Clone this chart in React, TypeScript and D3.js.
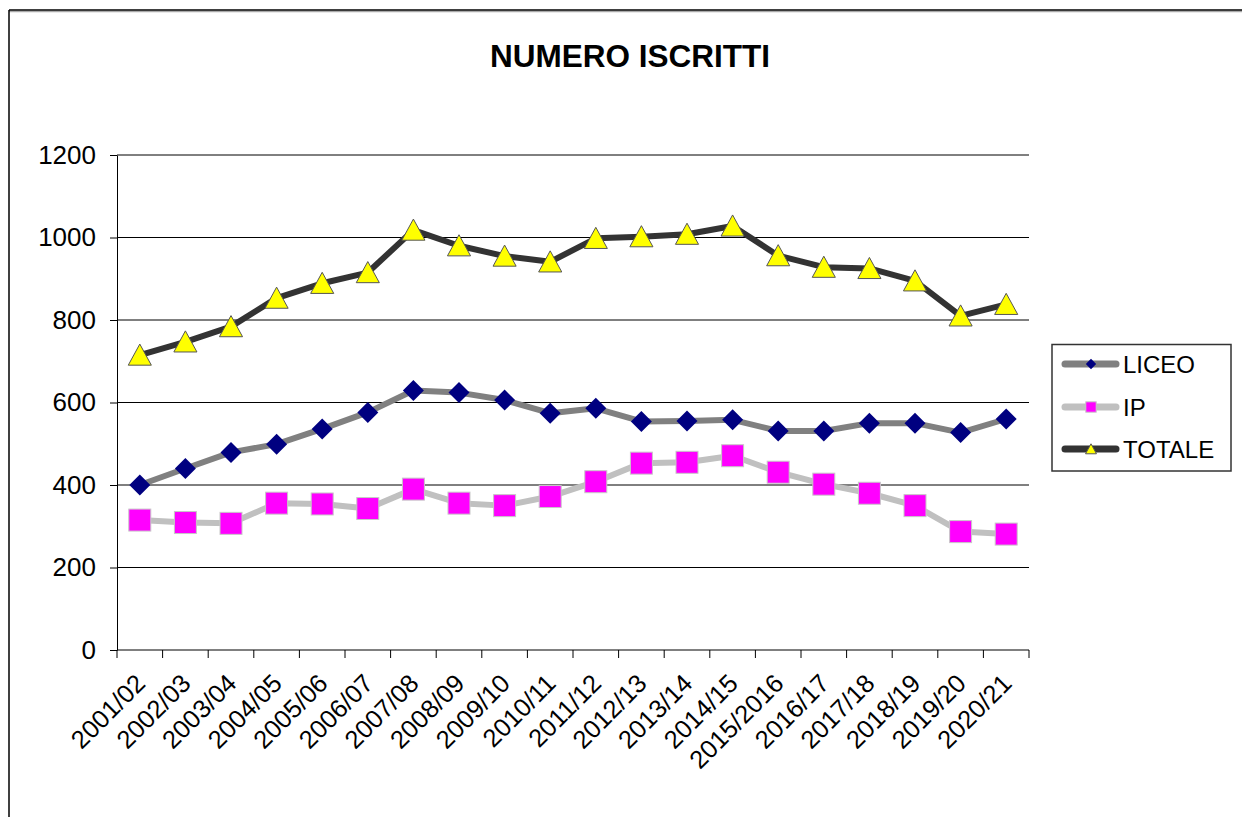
import React, { useEffect, useRef } from "react";
import * as d3 from "d3";

const categories = [
  "2001/02", "2002/03", "2003/04", "2004/05", "2005/06", "2006/07", "2007/08",
  "2008/09", "2009/10", "2010/11", "2011/12", "2012/13", "2013/14", "2014/15",
  "2015/2016", "2016/17", "2017/18", "2018/19", "2019/20", "2020/21",
];
const liceo = [400, 440, 479, 499, 536, 576, 629, 624, 606, 574, 586, 554, 555, 558, 531, 531, 550, 550, 527, 560];
const ip = [315, 309, 307, 356, 354, 343, 390, 356, 350, 372, 408, 453, 455, 471, 431, 402, 380, 350, 287, 281];
const totale = [715, 747, 784, 853, 889, 915, 1018, 980, 955, 941, 998, 1002, 1008, 1028, 956, 928, 925, 895, 810, 838];
const yTicks = [0, 200, 400, 600, 800, 1000, 1200];

const FONT = "'Liberation Sans', Arial, sans-serif";

function marker(g: any, kind: string, s: number) {
  if (kind === "diamond") {
    g.append("path")
      .attr("d", `M0,${-s}L${s},0L0,${s}L${-s},0Z`)
      .attr("fill", "#000080");
  } else if (kind === "square") {
    g.append("rect")
      .attr("x", -s).attr("y", -s).attr("width", 2 * s).attr("height", 2 * s)
      .attr("fill", "#FF00FF").attr("stroke", "#C8C8C8").attr("stroke-width", 1);
  } else {
    g.append("path")
      .attr("d", `M0,${-s}L${s * 1.05},${s * 0.92}L${-s * 1.05},${s * 0.92}Z`)
      .attr("fill", "#FFFF00").attr("stroke", "#555").attr("stroke-width", 1);
  }
}

export default function App() {
  const ref = useRef<SVGSVGElement>(null);

  useEffect(() => {
    const svg = d3.select(ref.current);
    svg.selectAll("*").remove();

    const W = 1242, H = 817;
    const left = 117, right = 1029, top = 155, bottom = 650;

    // frame
    svg.append("rect").attr("width", W).attr("height", H).attr("fill", "#fff");
    svg.append("line").attr("x1", 9).attr("x2", W).attr("y1", 11.5).attr("y2", 11.5)
      .attr("stroke", "#aaa").attr("stroke-width", 1.5);
    svg.append("line").attr("x1", 9).attr("x2", W).attr("y1", 10).attr("y2", 10)
      .attr("stroke", "#000").attr("stroke-width", 1.5);
    svg.append("line").attr("x1", 9).attr("x2", 9).attr("y1", 10).attr("y2", H)
      .attr("stroke", "#000").attr("stroke-width", 1.5);

    svg.append("text")
      .attr("x", 630).attr("y", 67)
      .attr("text-anchor", "middle")
      .attr("font-family", FONT).attr("font-weight", "bold").attr("font-size", 31.5)
      .text("NUMERO ISCRITTI");

    const x = d3.scaleBand().domain(categories).range([left, right]);
    const y = d3.scaleLinear().domain([0, 1200]).range([bottom, top]);

    // grid
    svg.append("g").selectAll("line").data(yTicks.filter((d) => d > 0)).enter()
      .append("line")
      .attr("x1", left).attr("x2", right)
      .attr("y1", (d) => y(d)).attr("y2", (d) => y(d))
      .attr("stroke", "#000").attr("stroke-width", 1);

    // y axis
    const ya = svg.append("g").attr("transform", `translate(${left},0)`)
      .call(d3.axisLeft(y).tickValues(yTicks).tickFormat(d3.format("d"))
        .tickSize(7).tickSizeOuter(0).tickPadding(14));
    ya.select(".domain").attr("stroke", "#000");
    ya.selectAll("text").attr("font-family", FONT).attr("font-size", 26).attr("fill", "#000");

    // x axis
    svg.append("line").attr("x1", left).attr("x2", right).attr("y1", bottom).attr("y2", bottom)
      .attr("stroke", "#000");
    const bounds = categories.map((c) => x(c) as number).concat([right]);
    svg.append("g").selectAll("line").data(bounds).enter().append("line")
      .attr("x1", (d) => d).attr("x2", (d) => d)
      .attr("y1", bottom).attr("y2", bottom + 8)
      .attr("stroke", "#000");
    svg.append("g").selectAll("text").data(categories).enter().append("text")
      .attr("transform", (d) => {
        const px = (x(d) as number) + x.bandwidth() / 2 + 7;
        return `translate(${px},685) rotate(-45)`;
      })
      .attr("text-anchor", "end")
      .attr("font-family", FONT).attr("font-size", 25.5)
      .text((d) => d);

    const series = [
      { name: "LICEO", values: liceo, color: "#808080", kind: "diamond", size: 10.5 },
      { name: "IP", values: ip, color: "#C0C0C0", kind: "square", size: 11 },
      { name: "TOTALE", values: totale, color: "#333333", kind: "triangle", size: 11 },
    ];

    const line = d3.line<number>()
      .x((_, i) => (x(categories[i]) as number) + x.bandwidth() / 2)
      .y((d) => y(d));

    series.forEach((s) => {
      svg.append("path").datum(s.values)
        .attr("d", line)
        .attr("fill", "none").attr("stroke", s.color).attr("stroke-width", 6)
        .attr("stroke-linejoin", "round");
    });
    series.forEach((s) => {
      s.values.forEach((v, i) => {
        const g = svg.append("g").attr("transform",
          `translate(${(x(categories[i]) as number) + x.bandwidth() / 2},${y(v)})`);
        marker(g, s.kind, s.size);
      });
    });

    // legend
    const lg = svg.append("g");
    lg.append("rect").attr("x", 1052).attr("y", 344.5).attr("width", 179).attr("height", 126.5)
      .attr("fill", "#fff").attr("stroke", "#333").attr("stroke-width", 1.5);
    const rows = [364, 407, 449];
    series.forEach((s, i) => {
      const ry = rows[i];
      lg.append("line").attr("x1", 1065).attr("x2", 1116).attr("y1", ry).attr("y2", ry)
        .attr("stroke", s.color).attr("stroke-width", 7).attr("stroke-linecap", "round");
      const g = lg.append("g").attr("transform", `translate(1091,${ry})`);
      marker(g, s.kind, 5.2);
      lg.append("text").attr("x", 1123).attr("y", ry).attr("dy", "0.36em")
        .attr("font-family", FONT).attr("font-size", 24)
        .text(s.name);
    });
  }, []);

  return (
    <svg
      ref={ref}
      width={1242}
      height={817}
      style={{ position: "absolute", left: 0, top: 0, display: "block" }}
    />
  );
}
